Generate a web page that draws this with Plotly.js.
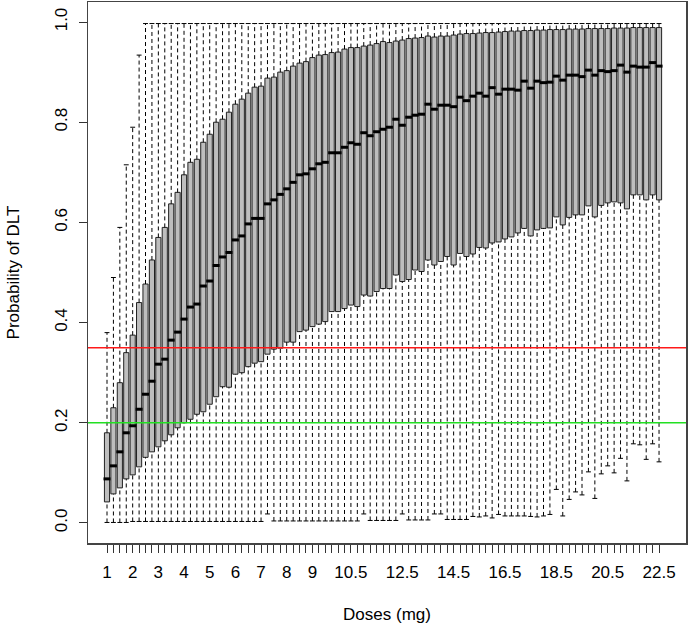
<!DOCTYPE html>
<html>
<head>
<meta charset="utf-8">
<script src="https://cdn.plot.ly/plotly-3.0.1.min.js"></script>
<style>
  body { margin: 0; background: #fff; }
  #dlt-boxplot { width: 688px; height: 629px; }
</style>
</head>
<body>
<div id="dlt-boxplot"></div>
<script>
// doses (mg), one box per dose
const doses = [
    1, 1.25, 1.5, 1.75, 2, 2.25, 2.5, 2.75, 3, 3.25, 3.5, 3.75,
    4, 4.25, 4.5, 4.75, 5, 5.25, 5.5, 5.75, 6, 6.25, 6.5, 6.75,
    7, 7.25, 7.5, 7.75, 8, 8.25, 8.5, 8.75, 9, 9.25, 9.5, 9.75,
    10, 10.25, 10.5, 10.75, 11, 11.25, 11.5, 11.75, 12, 12.25, 12.5, 12.75,
    13, 13.25, 13.5, 13.75, 14, 14.25, 14.5, 14.75, 15, 15.25, 15.5, 15.75,
    16, 16.25, 16.5, 16.75, 17, 17.25, 17.5, 17.75, 18, 18.25, 18.5, 18.75,
    19, 19.25, 19.5, 19.75, 20, 20.25, 20.5, 20.75, 21, 21.25, 21.5, 21.75,
    22, 22.25, 22.5
];

// doses that get a printed label on the x axis
const labelledDoses = [1, 2, 3, 4, 5, 6, 7, 8, 9, 10.5, 12.5, 14.5, 16.5, 18.5, 20.5, 22.5];

const whiskerLow = [
    0.001, 0.001, 0.001, 0.001, 0.003, 0.003, 0.003, 0.003, 0.003, 0.003, 0.003, 0.003,
    0.003, 0.003, 0.003, 0.003, 0.003, 0.003, 0.003, 0.003, 0.003, 0.003, 0.003, 0.003,
    0.003, 0.018, 0.004, 0.004, 0.004, 0.004, 0.004, 0.004, 0.004, 0.004, 0.004, 0.004,
    0.004, 0.004, 0.004, 0.004, 0.018, 0.005, 0.005, 0.005, 0.005, 0.005, 0.018, 0.006,
    0.006, 0.006, 0.006, 0.018, 0.018, 0.007, 0.007, 0.007, 0.007, 0.013, 0.012, 0.014,
    0.010, 0.017, 0.014, 0.014, 0.014, 0.014, 0.013, 0.012, 0.014, 0.017, 0.067, 0.014,
    0.047, 0.062, 0.056, 0.102, 0.049, 0.098, 0.114, 0.100, 0.129, 0.084, 0.158, 0.156,
    0.127, 0.158, 0.122
];

const q1 = [
    0.042, 0.058, 0.070, 0.088, 0.096, 0.112, 0.131, 0.142, 0.152, 0.164, 0.176, 0.190,
    0.200, 0.207, 0.217, 0.222, 0.237, 0.252, 0.272, 0.271, 0.297, 0.300, 0.312, 0.319,
    0.322, 0.337, 0.347, 0.349, 0.361, 0.361, 0.382, 0.385, 0.392, 0.397, 0.402, 0.422,
    0.422, 0.428, 0.435, 0.432, 0.455, 0.453, 0.462, 0.468, 0.468, 0.495, 0.482, 0.486,
    0.505, 0.502, 0.525, 0.515, 0.522, 0.532, 0.515, 0.538, 0.532, 0.537, 0.550, 0.549,
    0.559, 0.561, 0.567, 0.571, 0.579, 0.588, 0.573, 0.585, 0.588, 0.589, 0.611, 0.595,
    0.610, 0.615, 0.615, 0.633, 0.611, 0.634, 0.639, 0.641, 0.639, 0.627, 0.655, 0.655,
    0.645, 0.655, 0.645
];

const medians = [
    0.088, 0.114, 0.142, 0.180, 0.194, 0.227, 0.257, 0.283, 0.317, 0.327, 0.365, 0.381,
    0.407, 0.431, 0.437, 0.473, 0.483, 0.514, 0.531, 0.540, 0.565, 0.573, 0.597, 0.608,
    0.608, 0.637, 0.645, 0.656, 0.667, 0.680, 0.695, 0.697, 0.707, 0.717, 0.720, 0.739,
    0.739, 0.750, 0.759, 0.756, 0.779, 0.773, 0.781, 0.786, 0.790, 0.806, 0.794, 0.810,
    0.814, 0.816, 0.836, 0.826, 0.834, 0.834, 0.831, 0.850, 0.843, 0.852, 0.858, 0.852,
    0.869, 0.856, 0.866, 0.866, 0.864, 0.882, 0.868, 0.882, 0.879, 0.880, 0.892, 0.884,
    0.894, 0.894, 0.891, 0.904, 0.894, 0.903, 0.901, 0.903, 0.914, 0.900, 0.912, 0.910,
    0.910, 0.919, 0.912
];

const q3 = [
    0.180, 0.230, 0.280, 0.340, 0.375, 0.440, 0.477, 0.525, 0.570, 0.590, 0.637, 0.660,
    0.695, 0.720, 0.726, 0.760, 0.776, 0.800, 0.806, 0.820, 0.836, 0.846, 0.858, 0.870,
    0.872, 0.888, 0.890, 0.900, 0.903, 0.912, 0.918, 0.921, 0.929, 0.934, 0.935, 0.939,
    0.940, 0.946, 0.949, 0.949, 0.952, 0.954, 0.957, 0.961, 0.959, 0.962, 0.964, 0.967,
    0.968, 0.969, 0.972, 0.970, 0.972, 0.972, 0.974, 0.976, 0.977, 0.977, 0.978, 0.979,
    0.979, 0.980, 0.981, 0.982, 0.982, 0.983, 0.983, 0.984, 0.984, 0.985, 0.985, 0.985,
    0.986, 0.986, 0.986, 0.987, 0.987, 0.987, 0.987, 0.988, 0.988, 0.988, 0.989, 0.989,
    0.989, 0.989, 0.989
];

const whiskerHigh = [
    0.380, 0.490, 0.590, 0.715, 0.790, 0.934, 0.997, 0.997, 0.997, 0.997, 0.997, 0.997,
    0.997, 0.997, 0.997, 0.997, 0.997, 0.997, 0.997, 0.997, 0.997, 0.997, 0.997, 0.997,
    0.997, 0.997, 0.997, 0.997, 0.997, 0.997, 0.997, 0.997, 0.997, 0.997, 0.997, 0.997,
    0.997, 0.997, 0.997, 0.997, 0.997, 0.997, 0.997, 0.997, 0.997, 0.997, 0.997, 0.997,
    0.997, 0.997, 0.997, 0.997, 0.997, 0.997, 0.997, 0.997, 0.997, 0.997, 0.997, 0.997,
    0.997, 0.997, 0.997, 0.997, 0.997, 0.997, 0.997, 0.997, 0.997, 0.997, 0.997, 0.997,
    0.997, 0.997, 0.997, 0.997, 0.997, 0.997, 0.997, 0.997, 0.997, 0.997, 0.997, 0.997,
    0.997, 0.997, 0.997
];

const targetLine = 0.35;   // red
const lowerLine = 0.2;     // green

const font = "Liberation Sans, Arial, sans-serif";

// dashed whiskers, split with nulls so each one is its own segment
const wx = [];
const wy = [];
doses.forEach((d, i) => {
    wx.push(d, d, null, d, d, null);
    wy.push(q3[i], whiskerHigh[i], null, whiskerLow[i], q1[i], null);
});

const traces = [
    {
        type: "scatter",
        mode: "lines",
        x: wx,
        y: wy,
        connectgaps: false,
        line: { color: "#000", width: 1, dash: "4px,3px" },
        hoverinfo: "skip"
    },
    {
        type: "box",
        x: doses,
        q1: q1,
        median: medians,
        q3: q3,
        lowerfence: q1,
        upperfence: q3,
        width: 0.2,
        whiskerwidth: 0,
        boxpoints: false,
        fillcolor: "#BEBEBE",
        line: { color: "#222", width: 1 },
        hoverinfo: "skip"
    },
    {
        // thick median bars, like R's boxplot
        type: "scatter",
        mode: "markers",
        x: doses,
        y: medians,
        marker: { symbol: "line-ew", size: 5, line: { color: "#000", width: 3 } },
        hoverinfo: "skip"
    },
    {
        // whisker staples
        type: "scatter",
        mode: "markers",
        x: doses.concat(doses),
        y: whiskerHigh.concat(whiskerLow),
        marker: { symbol: "line-ew", size: 3.5, line: { color: "#000", width: 1 } },
        hoverinfo: "skip"
    }
];

const layout = {
    width: 688,
    height: 629,
    margin: { l: 88, r: 2, t: 2, b: 86 },
    paper_bgcolor: "#fff",
    plot_bgcolor: "#fff",
    showlegend: false,
    font: { family: font, size: 17, color: "#000" },
    xaxis: {
        range: [0.26, 23.55],
        tickmode: "array",
        tickvals: doses,
        ticktext: doses.map(d => labelledDoses.includes(d) ? String(d) : ""),
        ticks: "outside",
        ticklen: 8,
        tickwidth: 1,
        tickcolor: "#333",
        ticklabelstandoff: 5,
        tickangle: 0,
        showgrid: false,
        zeroline: false,
        showline: true,
        mirror: true,
        linecolor: "#444",
        linewidth: 1.5,
        automargin: false,
        title: { text: "Doses (mg)", font: { size: 17 }, standoff: 27 }
    },
    yaxis: {
        range: [-0.04, 1.04],
        tickmode: "array",
        tickvals: [0, 0.2, 0.4, 0.6, 0.8, 1.0],
        ticktext: ["0.0", "0.2", "0.4", "0.6", "0.8", "1.0"],
        ticks: "outside",
        ticklen: 8,
        tickwidth: 1,
        tickcolor: "#333",
        tickangle: -90,
        ticklabelstandoff: 5,
        showgrid: false,
        zeroline: false,
        showline: true,
        mirror: true,
        linecolor: "#444",
        linewidth: 1.5,
        automargin: false,
        title: { text: "Probability of DLT", font: { size: 17 }, standoff: 28 }
    },
    shapes: [
        {
            type: "line", xref: "paper", x0: 0, x1: 1, yref: "y", y0: targetLine, y1: targetLine,
            line: { color: "#ff1a1a", width: 1.5 }
        },
        {
            type: "line", xref: "paper", x0: 0, x1: 1, yref: "y", y0: lowerLine, y1: lowerLine,
            line: { color: "#22e022", width: 1.5 }
        }
    ]
};

Plotly.newPlot("dlt-boxplot", traces, layout, { displayModeBar: false, staticPlot: true });
</script>
</body>
</html>
